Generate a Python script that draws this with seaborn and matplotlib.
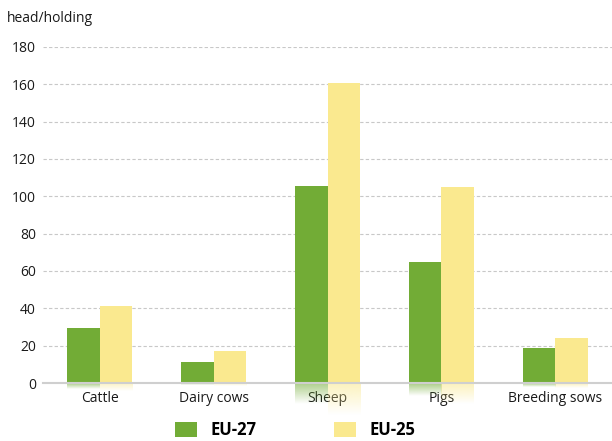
import numpy as np
import pandas as pd
import matplotlib.pyplot as plt
import seaborn as sns
from matplotlib.patches import Patch

sns.set_style('white')
plt.rcParams['font.family'] = ['Open Sans', 'DejaVu Sans']

categories = ['Cattle', 'Dairy cows', 'Sheep', 'Pigs', 'Breeding sows']
eu27 = [29.5, 11, 105.5, 65, 18.5]
eu25 = [41, 17, 160.5, 105, 24]
series = ['EU-27', 'EU-25']
colors = ['#72ac36', '#fae98f']

df = pd.DataFrame({
    'category': categories * 2,
    'value': eu27 + eu25,
    'series': ['EU-27'] * len(categories) + ['EU-25'] * len(categories),
})

fig = plt.figure(figsize=(6.12, 4.41), dpi=100)
ax = fig.add_axes([0.0703, 0.1315, 0.93, 0.762])

sns.barplot(data=df, x='category', y='value', hue='series', hue_order=series,
            palette=colors, width=0.57, saturation=1, legend=False, ax=ax,
            linewidth=0, edgecolor='none', zorder=3)

# faded reflection under each bar
for bar in ax.patches:
    h = bar.get_height()
    x0 = bar.get_x()
    w = bar.get_width()
    rgb = bar.get_facecolor()[:3]
    grad = np.zeros((50, 1, 4))
    grad[:, 0, :3] = rgb
    grad[:, 0, 3] = np.linspace(0.6, 0.0, 50)
    ax.imshow(grad, extent=(x0, x0 + w, -0.107 * h, 0), aspect='auto',
              origin='upper', clip_on=False, zorder=1, interpolation='bilinear')

ax.set_xlim(-0.5, 4.5)
ax.set_ylim(0, 180)
ax.set_yticks(np.arange(0, 181, 20))
ax.set_xlabel('')
ax.set_ylabel('')

ax.yaxis.grid(True, linestyle=(0, (3, 2)), color='#c8c8c8', linewidth=0.8, zorder=0)
ax.set_axisbelow(True)
for s in ['top', 'right', 'left']:
    ax.spines[s].set_visible(False)
ax.spines['bottom'].set_color('#cfcfcf')
ax.spines['bottom'].set_linewidth(1.5)
ax.spines['bottom'].set_zorder(4)

ax.set_xticks(np.arange(0.5, 4.5, 1), minor=True)
ax.tick_params(axis='x', which='minor', direction='in', length=4, color='#c8c8c8', width=1)
ax.tick_params(axis='x', which='major', length=0, labelsize=10, pad=6, labelcolor='#1a1a1a')
ax.tick_params(axis='y', length=0, labelsize=10, pad=5, labelcolor='#1a1a1a')
for t in ax.get_xticklabels():
    t.set_zorder(5)

fig.text(0.012, 0.958, 'head/holding', fontsize=10, color='#1a1a1a', va='center')

handles = [Patch(facecolor=c, edgecolor='none') for c in colors]
leg = fig.legend(handles, series, loc='lower left', bbox_to_anchor=(0.286, 0.004),
                 ncol=2, frameon=False, borderpad=0, borderaxespad=0,
                 handlelength=1.32, handleheight=0.96,
                 handletextpad=0.78, columnspacing=4.7,
                 prop={'weight': 'bold', 'size': 12})
for t in leg.get_texts():
    t.set_color('black')

fig.savefig('out.png', dpi=100)
